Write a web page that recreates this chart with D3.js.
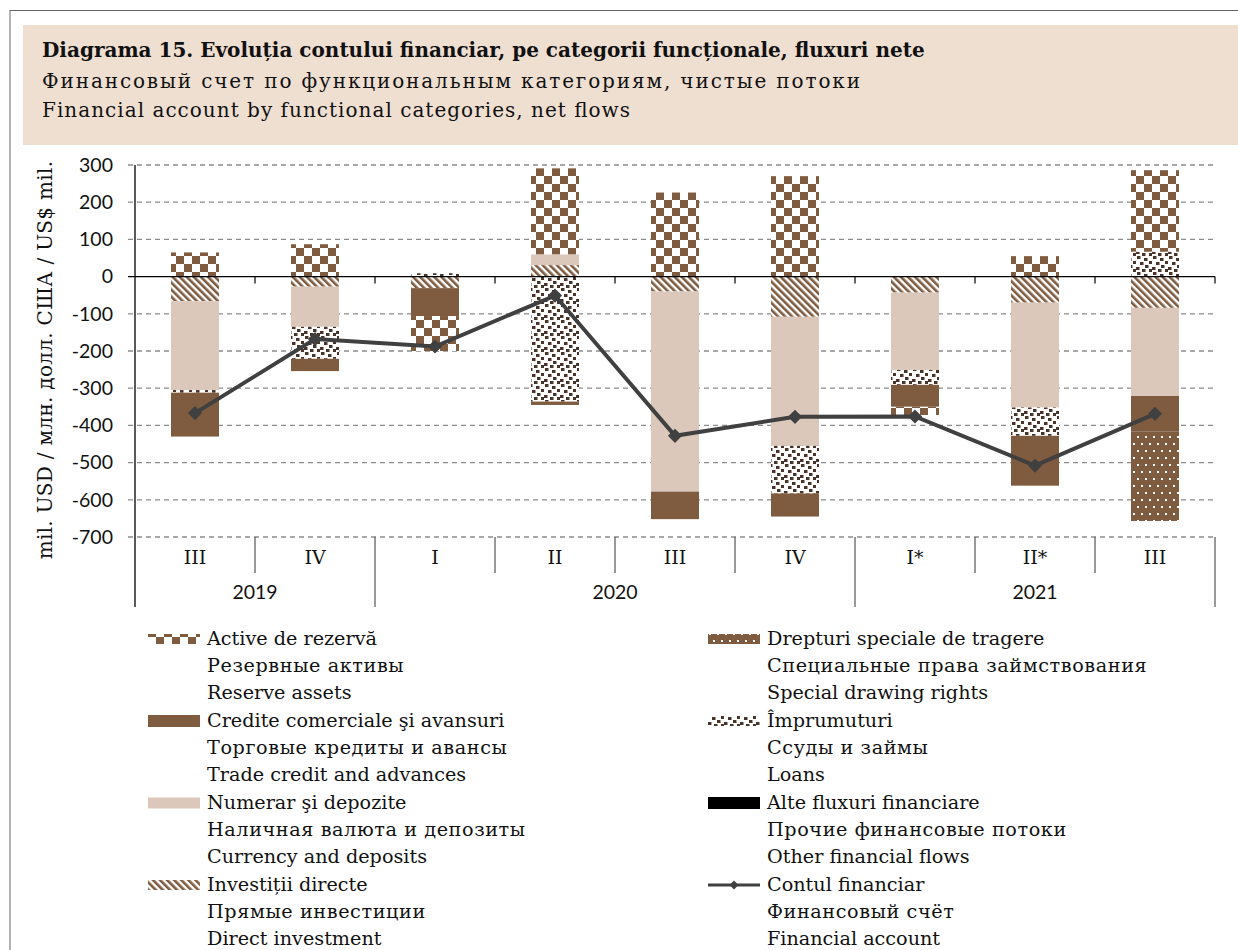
<!DOCTYPE html>
<html>
<head>
<meta charset="utf-8">
<script src="https://cdn.jsdelivr.net/npm/d3@7"></script>
<style>
  body { margin: 0; background: #fff; }
  text { font-family: "DejaVu Serif", serif; fill: #111; }
  .sans { font-family: Lato, "Open Sans", sans-serif; }
</style>
</head>
<body>
<div id="chart"></div>
<script>
// quarters and years
const categories = ["III", "IV", "I", "II", "III", "IV", "I*", "II*", "III"];
const years = ["2019", "2020", "2021"];
const yearSpans = [[0, 2], [2, 6], [6, 9]];

// net flows, mil. USD (stacked in this order)
const directInvestment = [-66, -27, -31, 31, -40, -108, -43, -70, -84];
const currencyDeposits = [-239, -108, 0, 29, -538, -347, -208, -282, -237];
const loans = [-7, -86, 9, -336, 0, -128, -40, -76, 67];
const tradeCredit = [-118, -33, -75, -9, -74, -62, -59, -134, -96];
const sdr = [0, 0, 0, 0, 0, 0, 0, 0, -240];
const otherFlows = [0, 0, 0, 0, 0, 0, 0, 0, 0];
const reserveAssets = [65, 87, -94, 231, 226, 270, -22, 55, 219];
const financialAccount = [-367, -168, -188, -51, -428, -377, -376, -508, -369];

const yTicks = [300, 200, 100, 0, -100, -200, -300, -400, -500, -600, -700];

const brown = "#7f5b40";
const dark = "#4a3427";

const svg = d3.select("#chart").append("svg")
  .attr("width", 1238)
  .attr("height", 950);

// ---- patterns
const defs = svg.append("defs");

const chk = defs.append("pattern").attr("id", "p-reserve")
  .attr("patternUnits", "userSpaceOnUse").attr("width", 16).attr("height", 16);
chk.append("rect").attr("width", 16).attr("height", 16).attr("fill", "#fff");
chk.append("rect").attr("width", 8).attr("height", 8).attr("fill", brown);
chk.append("rect").attr("x", 8).attr("y", 8).attr("width", 8).attr("height", 8).attr("fill", brown);

const diag = defs.append("pattern").attr("id", "p-direct")
  .attr("patternUnits", "userSpaceOnUse").attr("width", 5).attr("height", 5)
  .attr("patternTransform", "rotate(-45)");
diag.append("rect").attr("width", 5).attr("height", 5).attr("fill", "#fff");
diag.append("rect").attr("width", 2.6).attr("height", 5).attr("fill", brown);

const conf = defs.append("pattern").attr("id", "p-loans")
  .attr("patternUnits", "userSpaceOnUse").attr("width", 16).attr("height", 16);
conf.append("rect").attr("width", 16).attr("height", 16).attr("fill", "#fff");
[[1, 0], [8, 2], [13, 5], [4, 6], [9, 9], [0, 11], [13, 13], [6, 13]].forEach(p => {
  conf.append("rect").attr("x", p[0]).attr("y", p[1]).attr("width", 3.5).attr("height", 3)
    .attr("fill", dark);
});

const dots = defs.append("pattern").attr("id", "p-sdr")
  .attr("patternUnits", "userSpaceOnUse").attr("width", 8).attr("height", 14);
dots.append("rect").attr("width", 8).attr("height", 14).attr("fill", brown);
dots.append("rect").attr("x", 1).attr("y", 2).attr("width", 2).attr("height", 2).attr("fill", "#fff");
dots.append("rect").attr("x", 5).attr("y", 9).attr("width", 2).attr("height", 2).attr("fill", "#fff");

const series = [
  { key: "direct", values: directInvestment, fill: "url(#p-direct)" },
  { key: "currency", values: currencyDeposits, fill: "#dbc8ba" },
  { key: "loans", values: loans, fill: "url(#p-loans)" },
  { key: "trade", values: tradeCredit, fill: brown },
  { key: "sdr", values: sdr, fill: "url(#p-sdr)" },
  { key: "other", values: otherFlows, fill: "#000" },
  { key: "reserve", values: reserveAssets, fill: "url(#p-reserve)" }
];

// ---- frame and header
svg.append("line").attr("x1", 10).attr("x2", 1238).attr("y1", 10.5).attr("y2", 10.5)
  .attr("stroke", "#666");
svg.append("line").attr("x1", 10).attr("x2", 10).attr("y1", 10).attr("y2", 950)
  .attr("stroke", "#666");
svg.append("rect").attr("x", 23).attr("y", 25).attr("width", 1215).attr("height", 120)
  .attr("fill", "#efdfd1");

svg.append("text").attr("x", 42).attr("y", 57).attr("font-size", 20).attr("font-weight", "bold")
  .text("Diagrama 15. Evoluția contului financiar, pe categorii funcționale, fluxuri nete");
svg.append("text").attr("x", 42).attr("y", 88).attr("font-size", 20)
  .attr("textLength", 818).attr("lengthAdjust", "spacing")
  .text("Финансовый счет по функциональным категориям, чистые потоки");
svg.append("text").attr("x", 42).attr("y", 117).attr("font-size", 20)
  .attr("textLength", 588).attr("lengthAdjust", "spacing")
  .text("Financial account by functional categories, net flows");

// ---- scales
const x = d3.scaleBand().domain(d3.range(categories.length))
  .range([135, 1215]).paddingInner(0.6).paddingOuter(0.3);
const y = d3.scaleLinear().domain([-700, 300]).range([537, 165]);
const step = x.step();
const left = 135, right = 1215;

// gridlines
svg.append("g").selectAll("line").data(yTicks.filter(t => t !== 0)).join("line")
  .attr("x1", 128).attr("x2", right)
  .attr("y1", d => y(d)).attr("y2", d => y(d))
  .attr("stroke", "#8c8c8c").attr("stroke-width", 1.3).attr("stroke-dasharray", "5,4");

// y axis labels
const yAxis = d3.axisLeft(y).tickValues(yTicks).tickSize(0).tickPadding(22)
  .tickFormat(d => String(d));
const gy = svg.append("g").attr("transform", `translate(${left},0)`).call(yAxis);
gy.select(".domain").remove();
gy.selectAll("text").attr("class", "sans").attr("font-size", 19.5).attr("fill", "#111");

svg.append("text")
  .attr("transform", `translate(52,${(165 + 537) / 2 + 9}) rotate(-90)`)
  .attr("text-anchor", "middle").attr("font-size", 20).attr("letter-spacing", 0.3)
  .text("mil. USD / млн. долл. США / US$ mil.");

// ---- stacked bars
const rows = categories.map((c, i) => {
  const r = {};
  series.forEach(s => { r[s.key] = s.values[i]; });
  return r;
});
const stacked = d3.stack().keys(series.map(s => s.key))
  .offset(d3.stackOffsetDiverging)(rows);

svg.append("g").selectAll("g").data(stacked).join("g")
  .attr("fill", (d, i) => series[i].fill)
  .selectAll("rect").data(d => d.map((v, i) => ({ v, i }))).join("rect")
  .attr("x", d => x(d.i))
  .attr("width", x.bandwidth())
  .attr("y", d => y(Math.max(d.v[0], d.v[1])))
  .attr("height", d => Math.abs(y(d.v[0]) - y(d.v[1])));

// zero line with ticks
svg.append("line").attr("x1", 128).attr("x2", right).attr("y1", y(0)).attr("y2", y(0))
  .attr("stroke", "#000").attr("stroke-width", 1.3);
svg.append("g").selectAll("line").data(d3.range(1, categories.length + 1)).join("line")
  .attr("x1", d => left + d * step).attr("x2", d => left + d * step)
  .attr("y1", y(0)).attr("y2", y(0) + 7)
  .attr("stroke", "#000").attr("stroke-width", 1.2);

// y axis line
svg.append("line").attr("x1", left).attr("x2", left).attr("y1", 165).attr("y2", 607)
  .attr("stroke", "#000").attr("stroke-width", 1.3);

// category separators
const yearEnds = yearSpans.map(s => s[1]);
svg.append("g").selectAll("line").data(d3.range(1, categories.length + 1)).join("line")
  .attr("x1", d => left + d * step).attr("x2", d => left + d * step)
  .attr("y1", y(-700)).attr("y2", d => yearEnds.includes(d) ? 607 : 573)
  .attr("stroke", "#555").attr("stroke-width", 1.2);

svg.append("g").selectAll("text").data(categories).join("text")
  .attr("x", (d, i) => x(i) + x.bandwidth() / 2).attr("y", 564)
  .attr("text-anchor", "middle").attr("font-size", 19)
  .text(d => d);

svg.append("g").selectAll("text").data(years).join("text")
  .attr("class", "sans")
  .attr("x", (d, i) => left + (yearSpans[i][0] + yearSpans[i][1]) / 2 * step).attr("y", 599)
  .attr("text-anchor", "middle").attr("font-size", 19.5)
  .text(d => d);

// ---- financial account line
const cx = i => x(i) + x.bandwidth() / 2;
svg.append("path").datum(financialAccount)
  .attr("fill", "none").attr("stroke", "#404040").attr("stroke-width", 4)
  .attr("d", d3.line().x((d, i) => cx(i)).y(d => y(d)));
svg.append("g").selectAll("path").data(financialAccount).join("path")
  .attr("d", d3.symbol(d3.symbolSquare, 100))
  .attr("transform", (d, i) => `translate(${cx(i)},${y(d)}) rotate(45)`)
  .attr("fill", "#404040");

// ---- legend
const legendItems = [
  { col: 0, row: 0, fill: "url(#p-reserve)", h: 10, lines: ["Active de rezervă", "Резервные активы", "Reserve assets"] },
  { col: 0, row: 1, fill: brown, h: 12, lines: ["Credite comerciale şi avansuri", "Торговые кредиты и авансы", "Trade credit and advances"] },
  { col: 0, row: 2, fill: "#dbc8ba", h: 11, lines: ["Numerar şi depozite", "Наличная валюта и депозиты", "Currency and deposits"] },
  { col: 0, row: 3, fill: "url(#p-direct)", h: 10, lines: ["Investiții directe", "Прямые инвестиции", "Direct investment"] },
  { col: 1, row: 0, fill: "url(#p-sdr)", h: 10, lines: ["Drepturi speciale de tragere", "Специальные права займствования", "Special drawing rights"] },
  { col: 1, row: 1, fill: "url(#p-loans)", h: 10, lines: ["Împrumuturi", "Ссуды и займы", "Loans"] },
  { col: 1, row: 2, fill: "#000", h: 12, lines: ["Alte fluxuri financiare", "Прочие финансовые потоки", "Other financial flows"] },
  { col: 1, row: 3, line: true, lines: ["Contul financiar", "Финансовый счёт", "Financial account"] }
];
const colX = [148, 708];
const rowY = [645, 727, 809, 891];

const lg = svg.append("g").selectAll("g").data(legendItems).join("g")
  .attr("transform", d => `translate(${colX[d.col]},${rowY[d.row]})`);

lg.filter(d => !d.line).append("rect")
  .attr("x", 0).attr("y", d => -6 - d.h / 2).attr("width", 52).attr("height", d => d.h)
  .attr("fill", d => d.fill);
lg.filter(d => d.line).append("line")
  .attr("x1", 0).attr("x2", 52).attr("y1", -6).attr("y2", -6)
  .attr("stroke", "#404040").attr("stroke-width", 3);
lg.filter(d => d.line).append("path")
  .attr("d", d3.symbol(d3.symbolSquare, 40))
  .attr("transform", "translate(26,-6) rotate(45)")
  .attr("fill", "#404040");

// second line of each entry is Cyrillic and runs wider in the source
lg.selectAll("text").data(d => d.lines).join("text")
  .attr("x", 59).attr("y", (d, i) => i * 27)
  .attr("font-size", 19.2)
  .attr("letter-spacing", (d, i) => i === 1 ? 0.6 : 0)
  .text(d => d);
</script>
</body>
</html>
